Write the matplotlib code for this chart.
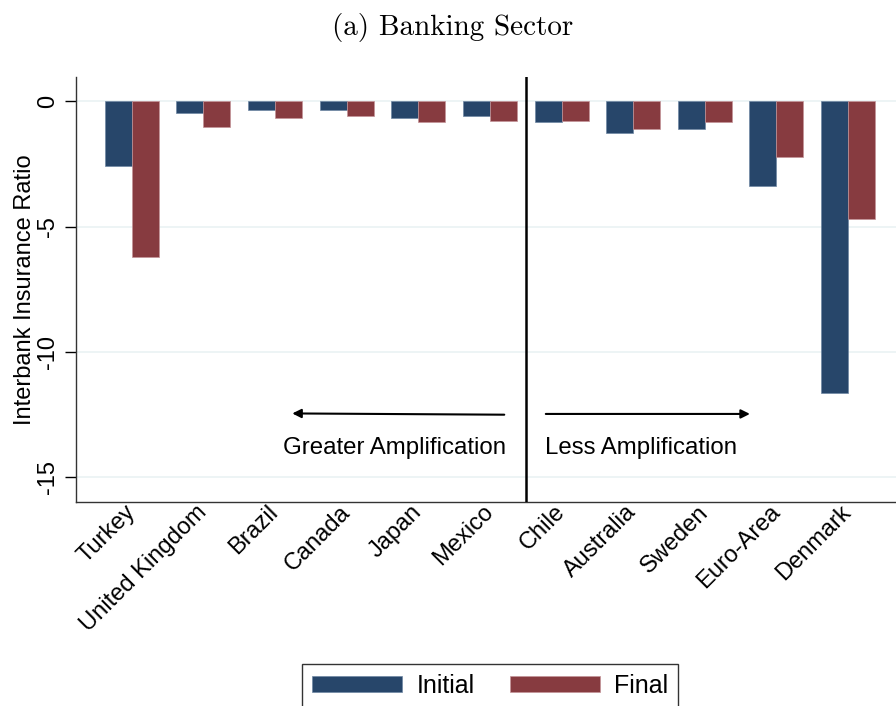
import matplotlib
matplotlib.use("Agg")
import matplotlib.pyplot as plt
import numpy as np

plt.rcParams.update({
    "font.family": ["Liberation Sans", "DejaVu Sans"],
})

# data
countries = ["Turkey", "United Kingdom", "Brazil", "Canada", "Japan", "Mexico",
             "Chile", "Australia", "Sweden", "Euro-Area", "Denmark"]
initial = [-2.60, -0.49, -0.37, -0.37, -0.68, -0.61,
           -0.82, -1.26, -1.13, -3.40, -11.65]
final = [-6.22, -1.05, -0.69, -0.60, -0.84, -0.78,
         -0.78, -1.13, -0.85, -2.24, -4.71]
yticks = [0, -5, -10, -15]

c_init = "#27466a"
c_final = "#873b40"

fig = plt.figure(figsize=(8.96, 7.06), dpi=100)
ax = fig.add_axes([76 / 896, 204 / 706, 820 / 896, 425 / 706])

x = np.arange(len(countries))
w = 0.377
ax.bar(x - w / 2, initial, w, color=c_init, edgecolor="#6f87a3", lw=0.5,
       label="Initial", zorder=3)
ax.bar(x + w / 2, final, w, color=c_final, edgecolor="#c49498", lw=0.5,
       label="Final", zorder=3)

ax.set_xlim(-0.78, 10.67)
ax.set_ylim(-15.98, 0.96)

ax.set_yticks(yticks)
ax.set_yticklabels([str(v) for v in yticks], rotation=90, va="center",
                   fontsize=17)
ax.tick_params(axis="y", length=8, width=1, pad=4)
ax.set_xticks(x)
ax.set_xticklabels(countries, rotation=45, ha="right", va="center",
                   rotation_mode="anchor", fontsize=17)
ax.tick_params(axis="x", length=0, pad=5)
ax.grid(axis="y", color="#eaf2f3", lw=1.2, zorder=0)
ax.set_axisbelow(True)

for s in ["top", "right"]:
    ax.spines[s].set_visible(False)
for s in ["left", "bottom"]:
    ax.spines[s].set_linewidth(1.0)
    ax.spines[s].set_color("#333333")

ax.set_ylabel("Interbank Insurance Ratio", fontsize=17, labelpad=1)

# divider and annotations
ax.axvline(5.5, color="black", lw=1.8, zorder=4)
ax.annotate("", xy=(2.24, -12.45), xytext=(5.20, -12.50),
            arrowprops=dict(arrowstyle="-|>", color="black", lw=1.5,
                            mutation_scale=13, shrinkA=0, shrinkB=0))
ax.annotate("", xy=(8.63, -12.47), xytext=(5.78, -12.47),
            arrowprops=dict(arrowstyle="-|>", color="black", lw=1.5,
                            mutation_scale=13, shrinkA=0, shrinkB=0))
ax.text(5.23, -13.82, "Greater Amplification", ha="right", va="center",
        fontsize=17.3)
ax.text(5.77, -13.82, "Less Amplification", ha="left", va="center",
        fontsize=17.3)

fig.text(453 / 896, 1 - 27 / 706, "(a) Banking Sector", ha="center",
         va="center", fontsize=21, family="cmr10")

leg = ax.legend(loc="upper center", bbox_to_anchor=(490 / 896, 1 - 664 / 706),
                bbox_transform=fig.transFigure, ncol=2, fontsize=18,
                handlelength=3.6, handleheight=0.6, columnspacing=1.4,
                handletextpad=0.56, borderpad=0.4, borderaxespad=0,
                fancybox=False, frameon=True, edgecolor="black")
leg.get_frame().set_linewidth(1.0)

fig.savefig("out.png", facecolor="white")
